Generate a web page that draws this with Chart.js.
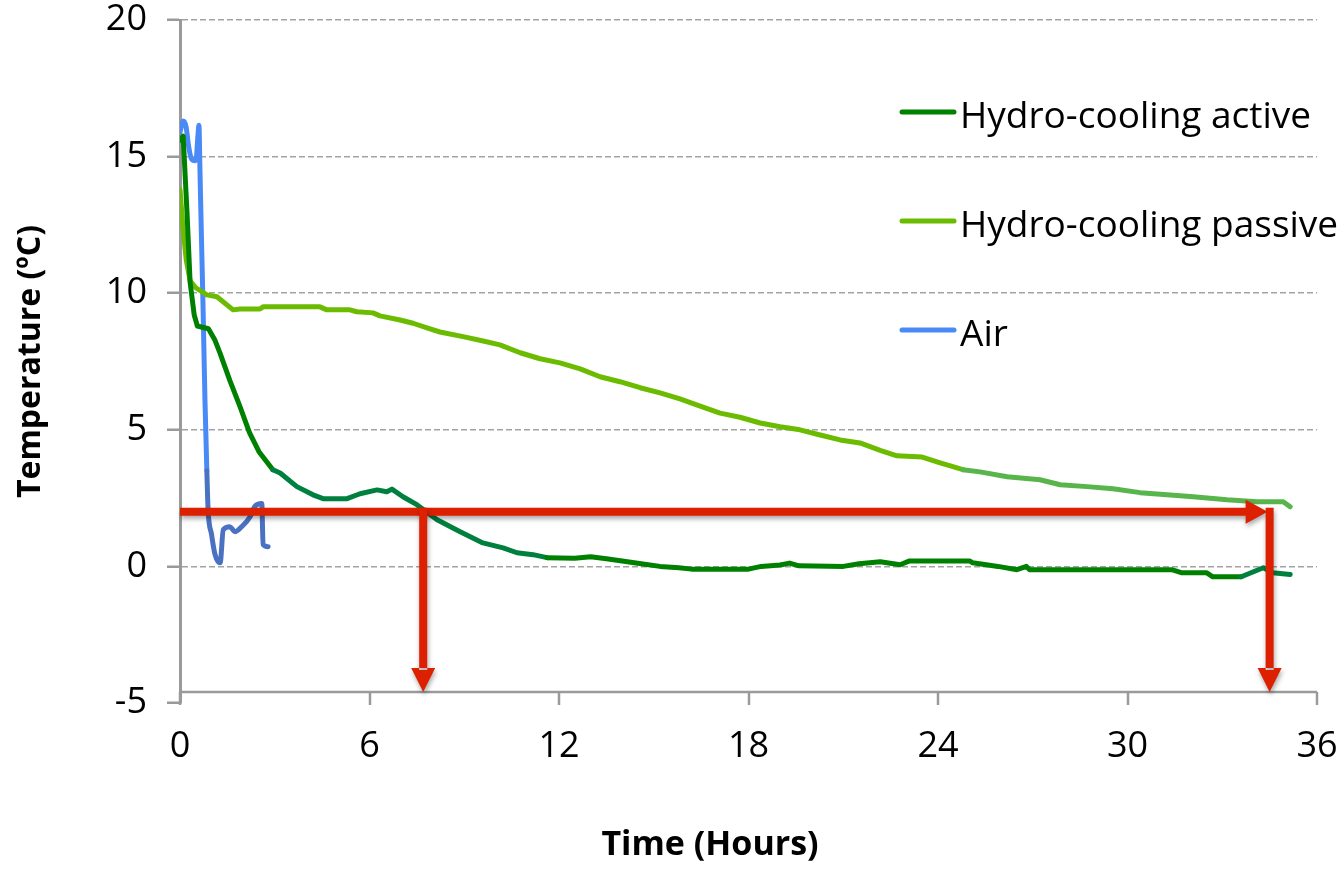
<!DOCTYPE html>
<html>
<head>
<meta charset="utf-8">
<title>Cooling curves</title>
<script src="https://cdn.jsdelivr.net/npm/chart.js@4.4.0/dist/chart.umd.min.js"></script>
<style>
  html, body { margin: 0; padding: 0; background: #fff; }
  #wrap { width: 1342px; height: 869px; }
</style>
</head>
<body>
<div id="wrap"><canvas id="tempChart" width="1342" height="869"></canvas></div>
<script>
// Hydro-cooling with circulating water
const activeHours = [0, 0.1, 0.22, 0.32, 0.45, 0.55, 0.9, 1.1, 1.27, 1.58, 1.9, 2.2, 2.5, 2.94, 3.17, 3.7, 4.21, 4.53,
  5.29, 5.7, 6.24, 6.55, 6.71, 7.06, 7.5, 8.14, 8.87, 9.59, 10.23, 10.67, 11.18, 11.62, 12.5, 13.0, 13.5, 14.0,
  14.6, 15.2, 15.8, 16.2, 18.0, 18.4, 19.0, 19.3, 19.6, 21.0, 21.5, 22.17, 22.8, 23.1, 25.0, 25.1, 25.9, 26.5,
  26.8, 26.9, 31.4, 31.7, 32.5, 32.7, 33.6, 34.3, 34.6, 35.15];
const activeTemps = [15.6, 15.75, 13.0, 10.4, 9.2, 8.8, 8.7, 8.3, 7.8, 6.8, 5.85, 4.9, 4.2, 3.54, 3.42, 2.92, 2.62, 2.48,
  2.48, 2.66, 2.8, 2.73, 2.83, 2.55, 2.26, 1.71, 1.27, 0.86, 0.68, 0.5, 0.43, 0.32, 0.3, 0.35, 0.28, 0.2,
  0.1, 0.0, -0.05, -0.1, -0.1, 0.0, 0.05, 0.12, 0.02, 0.0, 0.1, 0.17, 0.06, 0.2, 0.2, 0.13, 0.0, -0.12,
  0.0, -0.12, -0.12, -0.23, -0.23, -0.38, -0.38, -0.05, -0.23, -0.3];

// Hydro-cooling, still water
const passiveHours = [0, 0.1, 0.2, 0.32, 0.5, 0.85, 1.17, 1.68, 1.9, 2.53, 2.63, 4.43, 4.65, 5.38, 5.6, 6.11, 6.33,
  6.97, 7.38, 7.82, 8.23, 9.0, 9.6, 10.13, 10.77, 11.4, 12.03, 12.67, 13.3, 13.93, 14.57, 15.2, 15.83, 16.47,
  17.1, 17.73, 18.37, 19.0, 19.63, 20.27, 20.9, 21.53, 22.17, 22.7, 23.5, 24.07, 24.79, 25.33, 26.19, 27.23,
  27.87, 28.72, 29.54, 30.4, 31.25, 32.08, 33.15, 34.1, 34.93, 35.15];
const passiveTemps = [13.8, 12.3, 11.2, 10.45, 10.2, 9.94, 9.87, 9.39, 9.42, 9.42, 9.5, 9.5, 9.39, 9.39, 9.32, 9.28, 9.17,
  9.02, 8.9, 8.73, 8.58, 8.4, 8.25, 8.11, 7.82, 7.6, 7.45, 7.23, 6.94, 6.76, 6.54, 6.35, 6.13, 5.87,
  5.61, 5.46, 5.25, 5.11, 5.0, 4.81, 4.63, 4.52, 4.25, 4.05, 4.0, 3.79, 3.54, 3.46, 3.28, 3.17,
  2.99, 2.92, 2.84, 2.7, 2.62, 2.55, 2.44, 2.37, 2.37, 2.18];

// Air cooling
const airHours = [0, 0.1, 0.19, 0.27, 0.35, 0.45, 0.51, 0.57, 0.6, 0.63, 0.68, 0.73, 0.79, 0.85, 0.89, 1.0, 1.11, 1.27,
  1.37, 1.58, 1.74, 1.95, 2.22, 2.37, 2.59, 2.63, 2.79];
const airTemps = [15.9, 16.3, 16.1, 15.4, 14.95, 14.85, 14.9, 15.8, 16.15, 14.6, 12.0, 9.5, 6.1, 3.5, 2.07, 1.16, 0.43, 0.13,
  1.34, 1.45, 1.27, 1.45, 1.82, 2.2, 2.3, 0.8, 0.72];

const seriesNames = ['Hydro-cooling active', 'Hydro-cooling passive', 'Air'];
const xTicks = [0, 6, 12, 18, 24, 30, 36];
const yTicks = [-5, 0, 5, 10, 15, 20];

// 2 °C threshold and the hours at which each hydro run reaches it
const targetTemp = 2;
const targetHours = [7.7, 34.5];
// the time axis is drawn slightly above the -5 line
const axisLevel = -4.6;

const toPoints = (xs, ys) => xs.map((h, i) => ({ x: h, y: ys[i] }));

const FONT = '"Open Sans", "Noto Sans", sans-serif';
Chart.defaults.font.family = FONT;
Chart.defaults.color = '#000';

const timeAxisPlugin = {
  id: 'timeAxis',
  beforeDatasetsDraw(chart) {
    const { ctx, chartArea, scales: { x, y } } = chart;
    const py = Math.round(y.getPixelForValue(axisLevel));
    ctx.save();
    ctx.strokeStyle = '#9a9a9a';
    ctx.lineWidth = 2.5;
    ctx.beginPath();
    ctx.moveTo(chartArea.left, py);
    ctx.lineTo(chartArea.right, py);
    xTicks.forEach(t => {
      const px = Math.round(x.getPixelForValue(t));
      ctx.moveTo(px, py);
      ctx.lineTo(px, py + 13);
    });
    ctx.stroke();
    ctx.restore();
  }
};

const arrowPlugin = {
  id: 'arrows',
  afterDatasetsDraw(chart) {
    const { ctx, scales: { x, y } } = chart;
    const yT = y.getPixelForValue(targetTemp);
    const yA = y.getPixelForValue(axisLevel);
    const xStart = x.getPixelForValue(0);
    const xEnd = x.getPixelForValue(targetHours[1]);
    const w = 8, head = 24, half = 12;

    ctx.save();
    ctx.fillStyle = '#dd2000';
    ctx.shadowColor = 'rgba(0,0,0,0.35)';
    ctx.shadowBlur = 5;
    ctx.shadowOffsetX = 1;
    ctx.shadowOffsetY = 3;

    // horizontal arrow along the threshold
    ctx.beginPath();
    ctx.rect(xStart, yT - w / 2, xEnd - head + 2 - xStart, w);
    ctx.moveTo(xEnd - head, yT - half);
    ctx.lineTo(xEnd - 2, yT);
    ctx.lineTo(xEnd - head, yT + half);
    ctx.closePath();
    ctx.fill();

    // drop arrows down to the time axis
    targetHours.forEach(h => {
      const px = x.getPixelForValue(h);
      ctx.beginPath();
      ctx.rect(px - w / 2, yT - w / 2, w, yA - head - yT + w / 2 + 2);
      ctx.moveTo(px - half, yA - head);
      ctx.lineTo(px, yA);
      ctx.lineTo(px + half, yA - head);
      ctx.closePath();
      ctx.fill();
    });
    ctx.restore();
  }
};

const labelPlugin = {
  id: 'labels',
  afterDraw(chart) {
    const { ctx } = chart;
    ctx.save();
    // legend
    const rows = [112, 221, 330];
    chart.data.datasets.forEach((ds, i) => {
      ctx.strokeStyle = ds.borderColor;
      ctx.lineWidth = 5;
      ctx.lineCap = 'round';
      ctx.beginPath();
      ctx.moveTo(902, rows[i]);
      ctx.lineTo(954, rows[i]);
      ctx.stroke();
      ctx.fillStyle = '#000';
      ctx.font = '37px ' + FONT;
      ctx.textAlign = 'left';
      ctx.textBaseline = 'alphabetic';
      ctx.fillText(ds.label, 960, rows[i] + 16);
    });
    // time axis title
    ctx.font = 'bold 34px ' + FONT;
    ctx.textAlign = 'center';
    ctx.fillText('Time (Hours)', 710, 855);
    ctx.restore();
  }
};

new Chart(document.getElementById('tempChart'), {
  type: 'line',
  data: {
    datasets: [
      {
        label: seriesNames[0],
        data: toPoints(activeHours, activeTemps),
        borderColor: '#008000',
        segment: {
          borderColor: c => {
            const h = c.p0.parsed.x;
            return (h >= 2.94 && h < 11.6) || h >= 33 ? '#00803e' : undefined;
          }
        }
      },
      {
        label: seriesNames[1],
        data: toPoints(passiveHours, passiveTemps),
        borderColor: '#6bbb00',
        segment: {
          borderColor: c => (c.p0.parsed.x >= 24.79 ? '#58b54b' : undefined)
        }
      },
      {
        label: seriesNames[2],
        data: toPoints(airHours, airTemps),
        borderColor: '#4a8af7',
        cubicInterpolationMode: 'monotone',
        segment: {
          borderColor: c => (c.p0.parsed.y <= 3.5 ? '#4b72c2' : undefined)
        }
      }
    ]
  },
  options: {
    responsive: false,
    animation: false,
    layout: { padding: 0 },
    elements: {
      point: { radius: 0 },
      line: { borderWidth: 5, tension: 0, borderJoinStyle: 'round', borderCapStyle: 'round', fill: false }
    },
    plugins: {
      legend: { display: false },
      tooltip: { enabled: false }
    },
    scales: {
      x: {
        type: 'linear',
        min: 0,
        max: 36,
        afterBuildTicks: s => { s.ticks = xTicks.map(v => ({ value: v })); },
        afterFit: s => {
          s.height = 166;
          s.paddingLeft = 0;
          s.paddingRight = 25;
        },
        border: { display: false },
        grid: { display: false, drawTicks: false },
        ticks: { padding: 24, maxRotation: 0, font: { size: 36, lineHeight: 1.1 } }
      },
      y: {
        min: -5,
        max: 20,
        afterBuildTicks: s => { s.ticks = yTicks.map(v => ({ value: v })); },
        afterFit: s => {
          s.width = 180;
          s.paddingTop = 20;
          s.paddingBottom = 0;
        },
        border: { color: '#9a9a9a', width: 3, dash: [6, 3] },
        grid: {
          color: c => (c.tick && c.tick.value === -5 ? 'rgba(0,0,0,0)' : '#a3a3a3'),
          lineWidth: 1.5,
          tickLength: 13,
          tickColor: '#9a9a9a',
          tickWidth: 2.5
        },
        ticks: { padding: 20, font: { size: 36, lineHeight: 1.1 } },
        title: {
          display: true,
          text: 'Temperature (ºC)',
          font: { size: 32, weight: 'bold', lineHeight: 1.2 },
          padding: 12
        }
      }
    }
  },
  plugins: [timeAxisPlugin, arrowPlugin, labelPlugin]
});
</script>
</body>
</html>
